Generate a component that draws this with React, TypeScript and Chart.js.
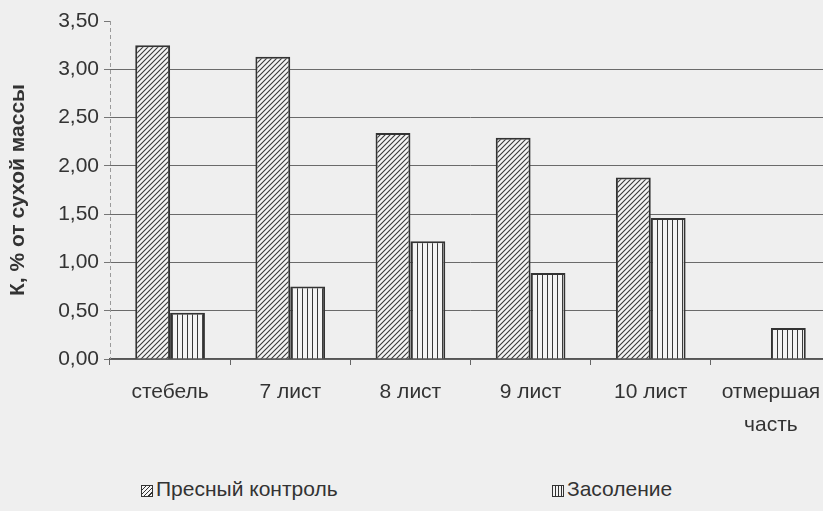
import React, { useEffect, useRef } from "react";
import { Chart, registerables } from "chart.js";

Chart.register(...registerables);

const categories: string[][] = [["стебель"], ["7 лист"], ["8 лист"], ["9 лист"], ["10 лист"], ["отмершая", "часть"]];
const freshControl: (number | null)[] = [3.25, 3.13, 2.34, 2.29, 1.88, null];
const salinity: number[] = [0.48, 0.75, 1.22, 0.89, 1.46, 0.32];
const seriesNames = ["Пресный контроль", "Засоление"];
const yAxisTitle = "К, % от сухой массы";
const yMin = 0;
const yMax = 3.5;
const yStep = 0.5;

const FONT = "'Liberation Sans', Arial, sans-serif";

function makeDiagonal(): CanvasPattern | string {
  const c = document.createElement("canvas");
  const s = 5;
  c.width = s;
  c.height = s;
  const g = c.getContext("2d");
  if (!g) return "#888";
  g.fillStyle = "#f4f4f4";
  g.fillRect(0, 0, s, s);
  g.strokeStyle = "#3a3a3a";
  g.lineWidth = 1.1;
  g.beginPath();
  g.moveTo(-1, s + 1);
  g.lineTo(s + 1, -1);
  g.moveTo(-1, 1);
  g.lineTo(1, -1);
  g.moveTo(s - 1, s + 1);
  g.lineTo(s + 1, s - 1);
  g.stroke();
  return g.createPattern(c, "repeat") as CanvasPattern;
}

function makeVertical(): CanvasPattern | string {
  const c = document.createElement("canvas");
  const s = 5;
  c.width = s;
  c.height = s;
  const g = c.getContext("2d");
  if (!g) return "#888";
  g.fillStyle = "#f4f4f4";
  g.fillRect(0, 0, s, s);
  g.fillStyle = "#3a3a3a";
  g.fillRect(2, 0, 1, s);
  return g.createPattern(c, "repeat") as CanvasPattern;
}

const dashedYAxis = {
  id: "dashedYAxis",
  afterDraw(chart: any) {
    const { ctx, chartArea } = chart;
    ctx.save();
    ctx.strokeStyle = "#9a9a9a";
    ctx.lineWidth = 1;
    ctx.setLineDash([4, 3]);
    ctx.beginPath();
    ctx.moveTo(chartArea.left + 0.5, chartArea.top);
    ctx.lineTo(chartArea.left + 0.5, chartArea.bottom);
    ctx.stroke();
    ctx.restore();
  },
};

export default function App() {
  const ref = useRef<HTMLCanvasElement | null>(null);

  useEffect(() => {
    if (!ref.current) return;
    const diag = makeDiagonal();
    const vert = makeVertical();
    const chart = new Chart(ref.current, {
      type: "bar",
      data: {
        labels: categories,
        datasets: [
          {
            label: seriesNames[0],
            data: freshControl,
            backgroundColor: diag,
            borderColor: "#333",
            borderWidth: 2,
            barPercentage: 1,
            categoryPercentage: 0.58,
          },
          {
            label: seriesNames[1],
            data: salinity,
            backgroundColor: vert,
            borderColor: "#333",
            borderWidth: 2,
            barPercentage: 1,
            categoryPercentage: 0.58,
          },
        ],
      },
      plugins: [dashedYAxis],
      options: {
        responsive: false,
        animation: false,
        layout: { padding: { top: 21, right: 29, left: 0, bottom: 0 } },
        plugins: { legend: { display: false }, tooltip: { enabled: false } },
        scales: {
          x: {
            grid: { drawOnChartArea: false, tickLength: 6, color: "#666", offset: true },
            border: { color: "#555", width: 1.5 },
            ticks: {
              color: "#333",
              padding: 10,
              font: { family: FONT, size: 21, lineHeight: 1.6 },
              maxRotation: 0,
              autoSkip: false,
            },
            afterFit: (s: any) => {
              s.height = 91;
            },
          },
          y: {
            min: yMin,
            max: yMax,
            ticks: {
              stepSize: yStep,
              color: "#333",
              padding: 5,
              font: { family: FONT, size: 21 },
              callback: (v: any) => Number(v).toFixed(2).replace(".", ","),
            },
            grid: {
              color: (ctx: any) => (ctx.tick && ctx.tick.value === yMax ? "rgba(0,0,0,0)" : "#6a6a6a"),
              tickColor: "#777",
              tickLength: 6,
            },
            border: { display: false },
            title: {
              display: true,
              text: yAxisTitle,
              color: "#333",
              font: { family: FONT, size: 21, weight: "bold" },
              padding: { top: 6, bottom: 0 },
            },
            afterFit: (s: any) => {
              s.width = 110;
            },
          },
        },
      },
    });
    return () => chart.destroy();
  }, []);

  const boxBase: React.CSSProperties = {
    display: "inline-block",
    width: 12,
    height: 12,
    border: "1px solid #333",
    boxSizing: "border-box",
    marginRight: 3,
    verticalAlign: "-1px",
  };

  const legendText: React.CSSProperties = {
    position: "absolute",
    top: 477,
    fontFamily: FONT,
    fontSize: 21,
    color: "#333",
    whiteSpace: "nowrap",
  };

  return (
    <div
      style={{
        position: "fixed",
        left: 0,
        top: 0,
        width: 823,
        height: 511,
        overflow: "hidden",
        background: "#efefef",
      }}
    >
      <canvas ref={ref} width={860} height={450} style={{ display: "block" }} />
      <div style={{ ...legendText, left: 141 }}>
        <span
          style={{
            ...boxBase,
            background: "repeating-linear-gradient(-45deg, #f4f4f4 0 2px, #333 2px 3px)",
          }}
        />
        {seriesNames[0]}
      </div>
      <div style={{ ...legendText, left: 552 }}>
        <span
          style={{
            ...boxBase,
            background: "repeating-linear-gradient(90deg, #f4f4f4 0 2px, #333 2px 3px)",
          }}
        />
        {seriesNames[1]}
      </div>
    </div>
  );
}
